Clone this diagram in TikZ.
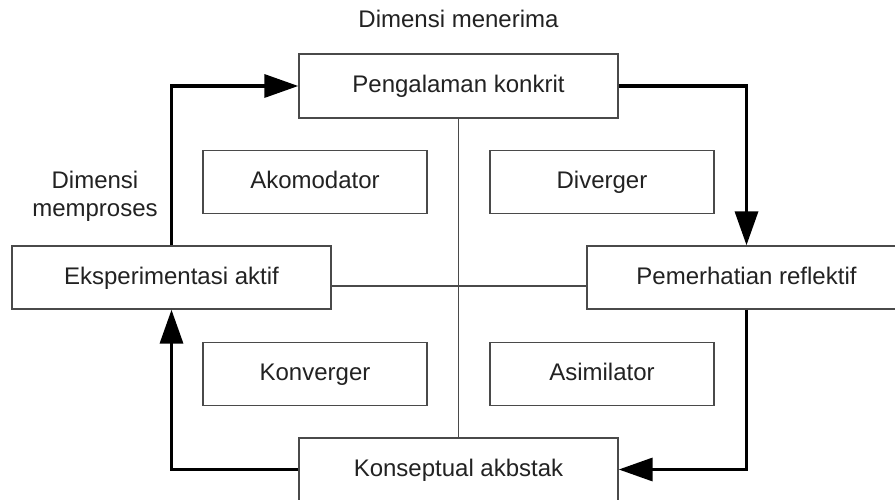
\documentclass[tikz,border=0pt]{standalone}
\usepackage{fontspec}
\setmainfont{Liberation Sans}
\usetikzlibrary{arrows.meta}
\definecolor{txt}{HTML}{222222}
\definecolor{edge}{HTML}{4A4A4A}
\begin{document}
\begin{tikzpicture}[x=1pt,y=-1pt,
  every node/.style={font=\fontsize{24}{28}\selectfont, text=txt},
  box/.style={draw=edge, line width=1.4pt, fill=white, inner sep=0pt, text height=17pt, text depth=4pt, minimum width=319pt, minimum height=63pt},
  smallbox/.style={box, minimum width=224pt},
  thin/.style={draw=edge, line width=1.3pt},
  arr/.style={draw=black, line width=3.5pt, -{Triangle[length=34pt,width=23pt]}}]
\useasboundingbox (0,0) rectangle (895,500);
\clip (0,0) rectangle (895,500);
\fill[white] (0,0) rectangle (895,500);
\coordinate (c) at (458.5,286);
\node[box, minimum height=64pt] (top) at (458.5,86) {Pengalaman konkrit};
\node[box] (eks) at (171.5,277.5) {Eksperimentasi aktif};
\node[box] (pem) at (746.5,277.5) {Pemerhatian reflektif};
\node[box] (bot) at (458.5,469.5) {Konseptual akbstak};
\draw[thin] (top.south) -- (bot.north);
\draw[thin] (eks.east |- c) -- (pem.west |- c);
\node[smallbox] (ako) at (315,182) {Akomodator};
\node[smallbox] (div) at (602,182) {Diverger};
\node[smallbox] (kon) at (315,374) {Konverger};
\node[smallbox] (asi) at (602,374) {Asimilator};
\node (dm) at (458.5,19) {Dimensi menerima};
\node[align=center] (dp) at (95,196) {Dimensi\\memproses};
\draw[arr] (eks.north) |- (top.west);
\draw[arr] (top.east) -| (pem.north);
\draw[arr] (pem.south) |- (bot.east);
\draw[arr] (bot.west) -| (eks.south);
\end{tikzpicture}
\end{document}
